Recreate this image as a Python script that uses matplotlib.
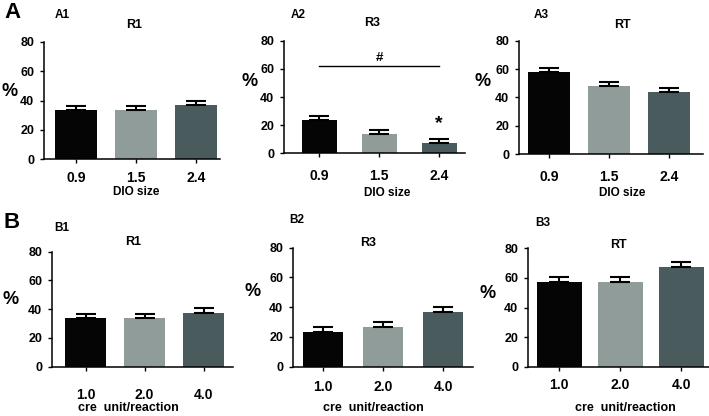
import matplotlib
matplotlib.use("Agg")
import matplotlib.pyplot as plt

plt.rcParams['font.family'] = ['Liberation Sans', 'DejaVu Sans']
plt.rcParams['font.weight'] = 'bold'

# data
dio_sizes = ['0.9', '1.5', '2.4']
cre_units = ['1.0', '2.0', '4.0']

a1_r1 = [33.5, 33.5, 37]
a1_err = [3, 3, 3]
a2_r3 = [23.5, 13.5, 7]
a2_err = [3.3, 3, 3]
a3_rt = [58, 48, 44]
a3_err = [3, 3, 3]

b1_r1 = [34, 34, 37.5]
b1_err = [3, 3, 3]
b2_r3 = [23.5, 27, 37]
b2_err = [3.3, 3.3, 3.3]
b3_rt = [57.5, 57.5, 67.5]
b3_err = [3, 3, 3]

colors = ['#050505', '#8f9c9a', '#4a5b5e']

W, H = 709, 416
fig = plt.figure(figsize=(W / 100, H / 100), dpi=100)


def px_axes(left, right, top, bottom):
    return fig.add_axes([left / W, 1 - bottom / H, (right - left) / W, (bottom - top) / H])


def ftext(x, y, s, size, ha='center'):
    fig.text(x / W, 1 - y / H, s, fontsize=size, fontweight='bold', ha=ha, va='center')


def panel(box, vals, errs, cats, xlim, width, xpad):
    ax = px_axes(*box)
    x = range(len(vals))
    ax.bar(x, vals, width=width, color=colors, zorder=2)
    ax.errorbar(x, vals, yerr=[[0] * len(errs), errs], fmt='none', ecolor='black',
                elinewidth=1.5, capsize=7, capthick=1.5, zorder=3)
    ax.set_ylim(0, 80)
    ax.set_xlim(*xlim)
    ax.set_yticks([0, 20, 40, 60, 80])
    ax.set_xticks(list(x))
    ax.set_xticklabels(cats, fontsize=10, fontweight='bold')
    ax.tick_params(axis='y', labelsize=9, width=1, length=3, pad=4)
    ax.tick_params(axis='x', width=1, length=3, pad=xpad)
    for lab in ax.get_yticklabels():
        lab.set_fontweight('bold')
    ax.spines['top'].set_visible(False)
    ax.spines['right'].set_visible(False)
    ax.spines['left'].set_linewidth(1.1)
    ax.spines['bottom'].set_linewidth(1.1)
    ax.patch.set_alpha(0)
    return ax


# row A
panel((44, 220, 42, 159), a1_r1, a1_err, dio_sizes, (-0.53, 2.4), 0.7, 6)
ax2 = panel((284, 465, 40.7, 153.3), a2_r3, a2_err, dio_sizes, (-0.59, 2.43), 0.58, 8)
ax2.plot([0, 2], [62, 62], color='black', lw=1)
ax2.text(1, 68, '#', ha='center', va='center', fontsize=9.5, fontweight='bold')
ax2.text(2, 21, '*', ha='center', va='center', fontsize=14, fontweight='bold')
panel((519, 703, 40.7, 154.3), a3_rt, a3_err, dio_sizes, (-0.5, 2.57), 0.7, 8)

# row B
panel((52, 233, 251.7, 366.7), b1_r1, b1_err, cre_units, (-0.57, 2.5), 0.7, 12)
panel((293, 473, 247.7, 366.7), b2_r3, b2_err, cre_units, (-0.5, 2.5), 0.67, 6.5)
panel((528, 709, 248.3, 366.7), b3_rt, b3_err, cre_units, (-0.51, 2.45), 0.73, 5)

# panel letters and titles
ftext(12, 12, 'A', 16)
ftext(12, 223, 'B', 16)
ftext(62, 15, 'A1', 8.5)
ftext(298, 15, 'A2', 8.5)
ftext(541, 15, 'A3', 8.5)
ftext(62, 228, 'B1', 8.5)
ftext(297, 220, 'B2', 8.5)
ftext(543, 223, 'B3', 8.5)

ftext(134, 25, 'R1', 9)
ftext(372, 23, 'R3', 9)
ftext(622, 25, 'RT', 9)
ftext(133, 242, 'R1', 9)
ftext(368, 243, 'R3', 9)
ftext(618, 245, 'RT', 9)

for px, py in [(10, 91), (250, 82), (483, 82), (11, 300), (253, 292), (488, 293)]:
    ftext(px, py, '%', 13)

ftext(136, 192, 'DIO size', 8.5)
ftext(387, 193, 'DIO size', 8.5)
ftext(622, 193, 'DIO size', 8.5)
ftext(128, 408, 'cre  unit/reaction', 9)
ftext(373, 408, 'cre  unit/reaction', 9)
ftext(625, 408, 'cre  unit/reaction', 9)

fig.savefig('out.png', dpi=100)
